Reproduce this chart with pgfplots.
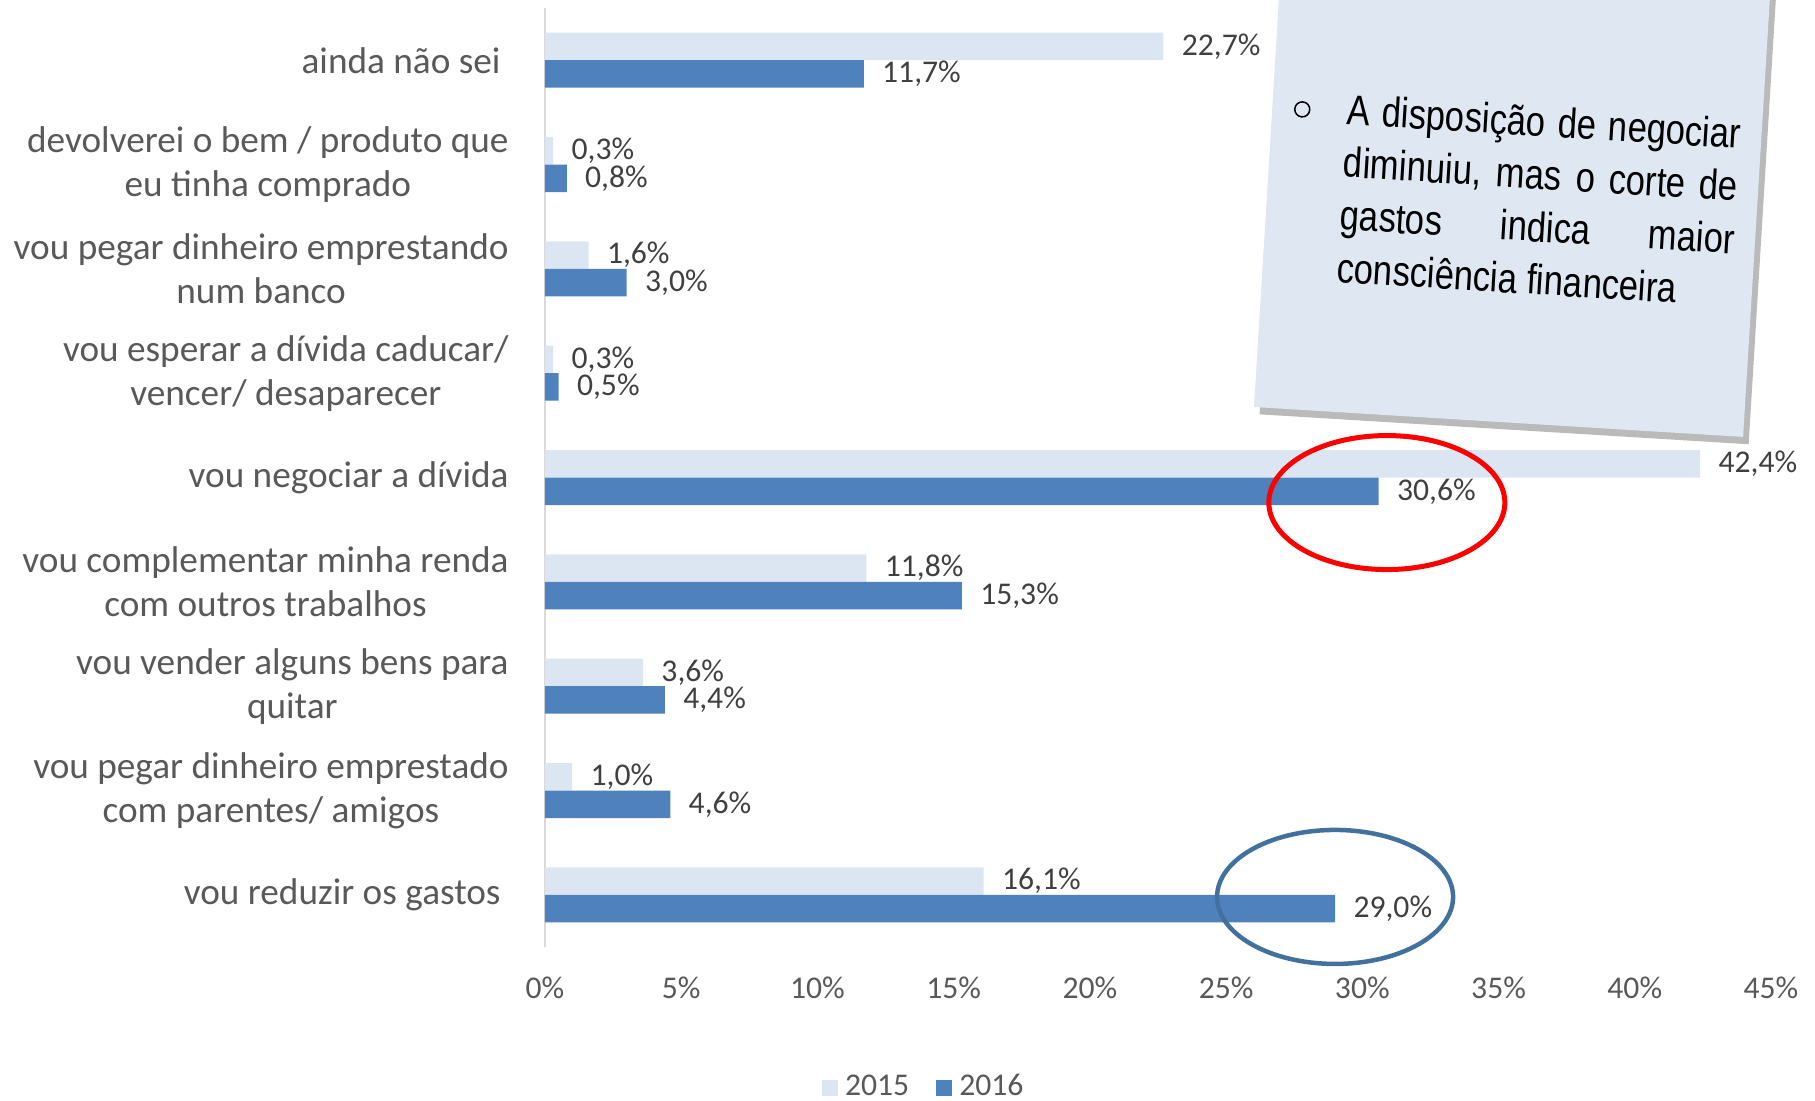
\documentclass[border=0pt]{standalone}
\usepackage{pgfplots}
\pgfplotsset{compat=1.18}
\usepackage{fontspec}
\setmainfont{Carlito}
\newfontfamily\boxfont[FakeStretch=0.82]{Liberation Sans}
\definecolor{lightbar}{HTML}{DCE6F2}
\definecolor{darkbar}{HTML}{4F81BD}
\definecolor{labgray}{HTML}{595959}
\definecolor{valgray}{HTML}{404040}
\definecolor{ellblue}{HTML}{41719C}
\definecolor{boxblue}{HTML}{DEE7F2}
\begin{document}
\begin{tikzpicture}
\clip (0,-110.1mm) rectangle (181.5mm,0);
\begin{axis}[
  at={(54.5mm,-94.7mm)}, anchor=south west,
  width=122.6mm, height=93.9mm, scale only axis,
  xbar, bar width=2.75mm,
  xmin=0, xmax=45, ymin=-0.5, ymax=8.5, y dir=reverse,
  clip=false,
  axis lines*=left,
  x axis line style={draw=none},
  y axis line style={draw=black!15, line width=0.25mm},
  major tick length=0,
  ytick={0,...,8},
  yticklabels={
    {ainda não sei\hspace*{0.8mm}},
    {devolverei o bem / produto que\\eu tinha comprado},
    {vou pegar dinheiro emprestando\\num banco},
    {vou esperar a dívida caducar/\\vencer/ desaparecer},
    {vou negociar a dívida},
    {vou complementar minha renda\\com outros trabalhos},
    {vou vender alguns bens para\\quitar},
    {vou pegar dinheiro emprestado\\com parentes/ amigos},
    {vou reduzir os gastos\hspace*{0.8mm}}},
  yticklabel style={align=center, text=labgray, font=\fontsize{10.6}{12.5}\selectfont, xshift=-2.4mm},
  xtick={0,5,...,45},
  xticklabel={\pgfmathprintnumber{\tick}\%},
  xticklabel style={text=labgray, font=\fontsize{9}{11}\selectfont, yshift=-1.7mm},
  /pgf/number format/assume math mode=true,
  point meta=x,
  nodes near coords={\pgfmathprintnumber[fixed,fixed zerofill,precision=1,use comma]{\pgfplotspointmeta}\%},
  nodes near coords style={anchor=west, xshift=0.6mm, text=valgray, font=\fontsize{9}{11}\selectfont},
  legend style={at={(0.311,-0.150)}, anchor=center, draw=none, fill=none,
    legend columns=2, font=\fontsize{9}{11}\selectfont, text=labgray,
    /tikz/every even column/.append style={column sep=2mm}},
]
\addplot[fill=lightbar, draw=none, bar shift=1.375mm,
  legend image code/.code={\fill[lightbar] (0mm,-0.8mm) rectangle (1.6mm,0.8mm);}]
  coordinates {(22.7,0) (0.3,1) (1.6,2) (0.3,3) (42.4,4) (11.8,5) (3.6,6) (1.0,7) (16.1,8)};
\addlegendentry{2015}
\addplot[fill=darkbar, draw=none, bar shift=-1.375mm,
  legend image code/.code={\fill[darkbar] (0mm,-0.8mm) rectangle (1.6mm,0.8mm);}]
  coordinates {(11.7,0) (0.8,1) (3.0,2) (0.5,3) (30.6,4) (15.3,5) (4.4,6) (4.6,7) (29.0,8)};
\addlegendentry{2016}
\draw[red, line width=0.5mm] (axis cs:30.9,4.24) ellipse [x radius=11.8mm, y radius=6.7mm];
\draw[ellblue, line width=0.45mm] (axis cs:29.0,8.02) ellipse [x radius=11.8mm, y radius=6.7mm];
\end{axis}
\begin{scope}[shift={(125.4mm,-40.7mm)}, rotate=-3.5]
  \fill[black!45, opacity=0.6] (0.6mm,-0.7mm) rectangle (49.6mm,50mm);
  \fill[boxblue] (0,0) rectangle (49mm,50mm);
  \draw[line width=0.15mm] (3.0mm,30.0mm) circle (0.75mm);
  \node[anchor=north west, inner sep=0, text width=39.5mm, align=justify, transform shape,
        font=\boxfont\fontsize{12}{15}\selectfont] at (7.4mm,31.9mm)
    {A disposição de negociar\linebreak diminuiu, mas o corte de\linebreak gastos indica maior\linebreak consciência financeira};
\end{scope}
\end{tikzpicture}
\end{document}
